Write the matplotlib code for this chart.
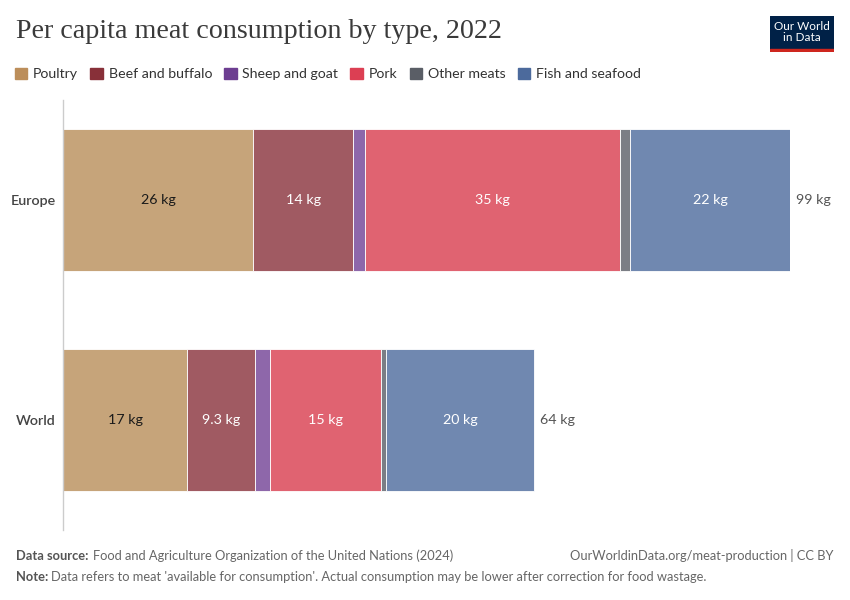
import matplotlib.pyplot as plt
import matplotlib.patches as mpatches
import numpy as np

regions = ['Europe', 'World']
types = ['Poultry', 'Beef and buffalo', 'Sheep and goat', 'Pork', 'Other meats', 'Fish and seafood']
poultry = [25.9, 16.9]
beef = [13.6, 9.3]
sheep = [1.6, 2.0]
pork = [34.7, 15.1]
other = [1.4, 0.7]
fish = [21.8, 20.2]
seg_labels = [['26 kg', '14 kg', '', '35 kg', '', '22 kg'],
              ['17 kg', '9.3 kg', '', '15 kg', '', '20 kg']]
total_labels = ['99 kg', '64 kg']

legend_colors = ['#BC8E5A', '#883039', '#6D3E91', '#DC3F53', '#5A5E66', '#4C6A9C']
bar_colors = ['#C6A47A', '#A05A62', '#8E67AA', '#E06371', '#7B7E85', '#7088B0']
text_colors = ['#1a1a1a', 'white', 'white', 'white', 'white', 'white']

plt.rcParams['font.family'] = ['Lato', 'DejaVu Sans']

fig = plt.figure(figsize=(8.5, 6), dpi=100)
ax = fig.add_axes([63 / 850, 70 / 600, 727 / 850, 430 / 600])

series = [poultry, beef, sheep, pork, other, fish]
y = np.arange(len(regions))
left = np.zeros(len(regions))
for i, vals in enumerate(series):
    vals = np.array(vals)
    ax.barh(y, vals, left=left, height=0.645, color=bar_colors[i],
            edgecolor='white', linewidth=0.6)
    for j in range(len(regions)):
        if seg_labels[j][i]:
            ax.text(left[j] + vals[j] / 2, y[j], seg_labels[j][i], ha='center', va='center',
                    fontsize=10.3, color=text_colors[i])
    left = left + vals

for j in range(len(regions)):
    ax.text(left[j] + 0.8, y[j], total_labels[j], ha='left', va='center', fontsize=10.3, color='#555555')

ax.set_xlim(0, 99)
ax.set_ylim(1.5, -0.4545)
ax.set_yticks(y)
ax.set_yticklabels(regions, fontsize=10.3, color='#444444', fontweight='semibold')
ax.tick_params(axis='y', length=0, pad=5)
ax.set_xticks([])
for s in ['top', 'right', 'bottom']:
    ax.spines[s].set_visible(False)
ax.spines['left'].set_color('#cccccc')
ax.spines['left'].set_linewidth(1)

# title
fig.text(16 / 850, 1 - 32 / 600, 'Per capita meat consumption by type, 2022', fontsize=20.2,
         family=['Liberation Serif', 'DejaVu Serif'], color='#3a3a3a', va='center', ha='left')

# legend
handles = [mpatches.Patch(color=c, label=t) for c, t in zip(legend_colors, types)]
leg = fig.legend(handles=handles, loc='center left', bbox_to_anchor=(9 / 850, 1 - 74 / 600),
                 ncol=6, frameon=False, fontsize=10.2, handlelength=0.9, handleheight=0.9,
                 handletextpad=0.4, columnspacing=0.85, borderaxespad=0)
for t in leg.get_texts():
    t.set_color('#333333')

# logo
logo = fig.add_axes([770 / 850, 1 - 52 / 600, 64 / 850, 36 / 600])
logo.set_xlim(0, 1)
logo.set_ylim(0, 1)
logo.add_patch(mpatches.Rectangle((0, 0.08), 1, 0.92, color='#002147'))
logo.add_patch(mpatches.Rectangle((0, 0), 1, 0.08, color='#CE261E'))
logo.text(0.5, 0.56, 'Our World\nin Data', ha='center', va='center', color='white',
          fontsize=8.5, linespacing=1.0)
logo.axis('off')

# footer
fig.text(16 / 850, 1 - 556 / 600, 'Data source:', fontsize=9.3, color='#555555', fontweight='bold',
         va='center')
fig.text(93 / 850, 1 - 556 / 600, 'Food and Agriculture Organization of the United Nations (2024)',
         fontsize=9.3, color='#666666', va='center')
fig.text(834 / 850, 1 - 556 / 600, 'OurWorldinData.org/meat-production | CC BY', fontsize=9.3,
         color='#666666', va='center', ha='right')
fig.text(16 / 850, 1 - 577 / 600, 'Note:', fontsize=9.3, color='#555555', fontweight='bold', va='center')
fig.text(51 / 850, 1 - 577 / 600,
         "Data refers to meat 'available for consumption'. Actual consumption may be lower after correction for food wastage.",
         fontsize=9.3, color='#666666', va='center')

fig.savefig('out.png', dpi=100, facecolor='white')
